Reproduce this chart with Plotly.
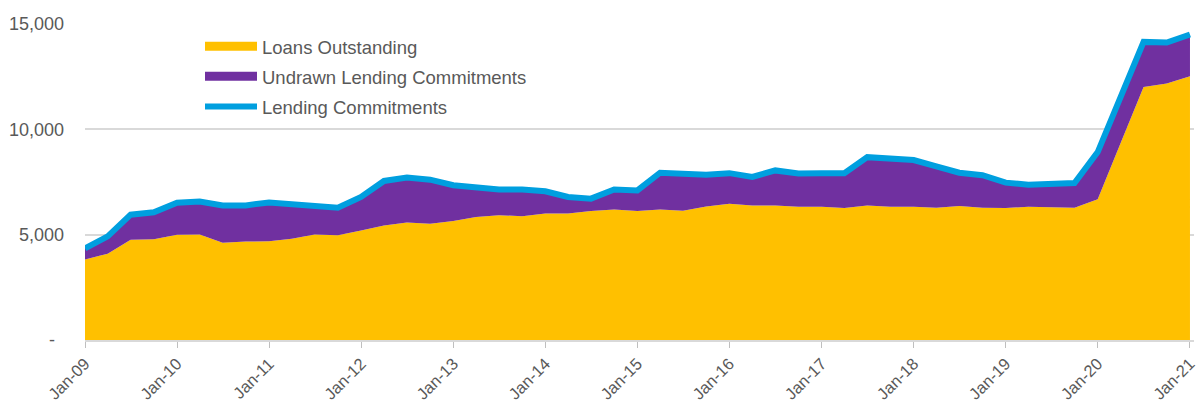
import pandas as pd
import plotly.graph_objects as go

dates = pd.date_range("2009-01-01", periods=49, freq="QS")

loans = [3820, 4100, 4760, 4780, 5000, 5010, 4620, 4670, 4690, 4810,
         5010, 4970, 5200, 5440, 5580, 5520, 5650, 5840, 5920, 5880,
         6010, 6010, 6120, 6200, 6120, 6200, 6140, 6340, 6470, 6390,
         6380, 6330, 6330, 6260, 6380, 6330, 6330, 6280, 6360, 6280,
         6260, 6330, 6300, 6280, 6680, 9350, 12010, 12170, 12520]

commitments = [4350, 4920, 5950, 6060, 6520, 6570, 6390, 6390, 6530, 6470,
               6380, 6280, 6790, 7550, 7710, 7610, 7350, 7260, 7140, 7140,
               7060, 6790, 6710, 7140, 7100, 7940, 7900, 7850, 7920, 7740,
               8050, 7900, 7920, 7920, 8680, 8580, 8540, 8240, 7940, 7820,
               7470, 7370, 7400, 7450, 8920, 11530, 14150, 14120, 14500]

undrawn = [c - l for c, l in zip(commitments, loans)]

series_names = ["Loans Outstanding", "Undrawn Lending Commitments", "Lending Commitments"]
y_tickvals = [0, 5000, 10000, 15000]
y_ticktext = ["-\u2002", "5,000", "10,000", "15,000"]

YELLOW = "#FFC000"
PURPLE = "#7030A0"
BLUE = "#009FDF"
GRAY_TEXT = "#595959"
FONT = "Liberation Sans, Arial, sans-serif"

fig = go.Figure()
fig.add_trace(go.Scatter(
    x=dates, y=loans, name=series_names[0], stackgroup="s",
    mode="none", fillcolor=YELLOW, line=dict(width=0), showlegend=False,
))
fig.add_trace(go.Scatter(
    x=dates, y=undrawn, name=series_names[1], stackgroup="s",
    mode="none", fillcolor=PURPLE, line=dict(width=0), showlegend=False,
))
fig.add_trace(go.Scatter(
    x=dates, y=commitments, name=series_names[2], legendgroup="c",
    mode="lines", line=dict(color=BLUE, width=6), showlegend=False,
))
# legend entries
for name, col, w, grp in [(series_names[0], YELLOW, 9, "a"),
                          (series_names[1], PURPLE, 9, "b"),
                          (series_names[2], BLUE, 6, "c")]:
    fig.add_trace(go.Scatter(
        x=[None], y=[None], name=name, mode="lines", legendgroup=grp,
        line=dict(color=col, width=w), showlegend=True,
    ))

fig.update_layout(
    width=1198, height=403,
    margin=dict(l=85, r=4, t=24, b=63),
    paper_bgcolor="white", plot_bgcolor="white",
    font=dict(family=FONT, size=18, color=GRAY_TEXT),
    showlegend=True,
    legend=dict(
        x=0.1037, y=0.988, xanchor="left", yanchor="top",
        traceorder="grouped", itemwidth=52,
        font=dict(family=FONT, size=18.5, color=GRAY_TEXT),
        bgcolor="rgba(0,0,0,0)", tracegroupgap=3,
    ),
)
fig.update_xaxes(
    type="date", range=["2009-01-01", "2021-01-17"],
    dtick="M12", tick0="2009-01-01", tickformat="%b-%y",
    tickangle=-45, ticks="outside", ticklen=6, tickcolor="#BFBFBF",
    showline=True, linecolor="#D9D9D9", linewidth=1.5,
    showgrid=False, tickfont=dict(size=16.5, color=GRAY_TEXT),
    automargin=False, ticklabeloverflow="allow",
)
fig.update_yaxes(
    range=[0, 15000], tickvals=y_tickvals, ticktext=y_ticktext,
    showgrid=True, gridcolor="#D9D9D9", gridwidth=1.5,
    zeroline=False, ticks="", ticklabelstandoff=20,
    tickfont=dict(size=18, color=GRAY_TEXT), automargin=False,
)

fig.write_html(
    "out.html",
    config={"displayModeBar": False},
    post_script="document.body.style.margin='0';document.body.style.padding='0';",
)
